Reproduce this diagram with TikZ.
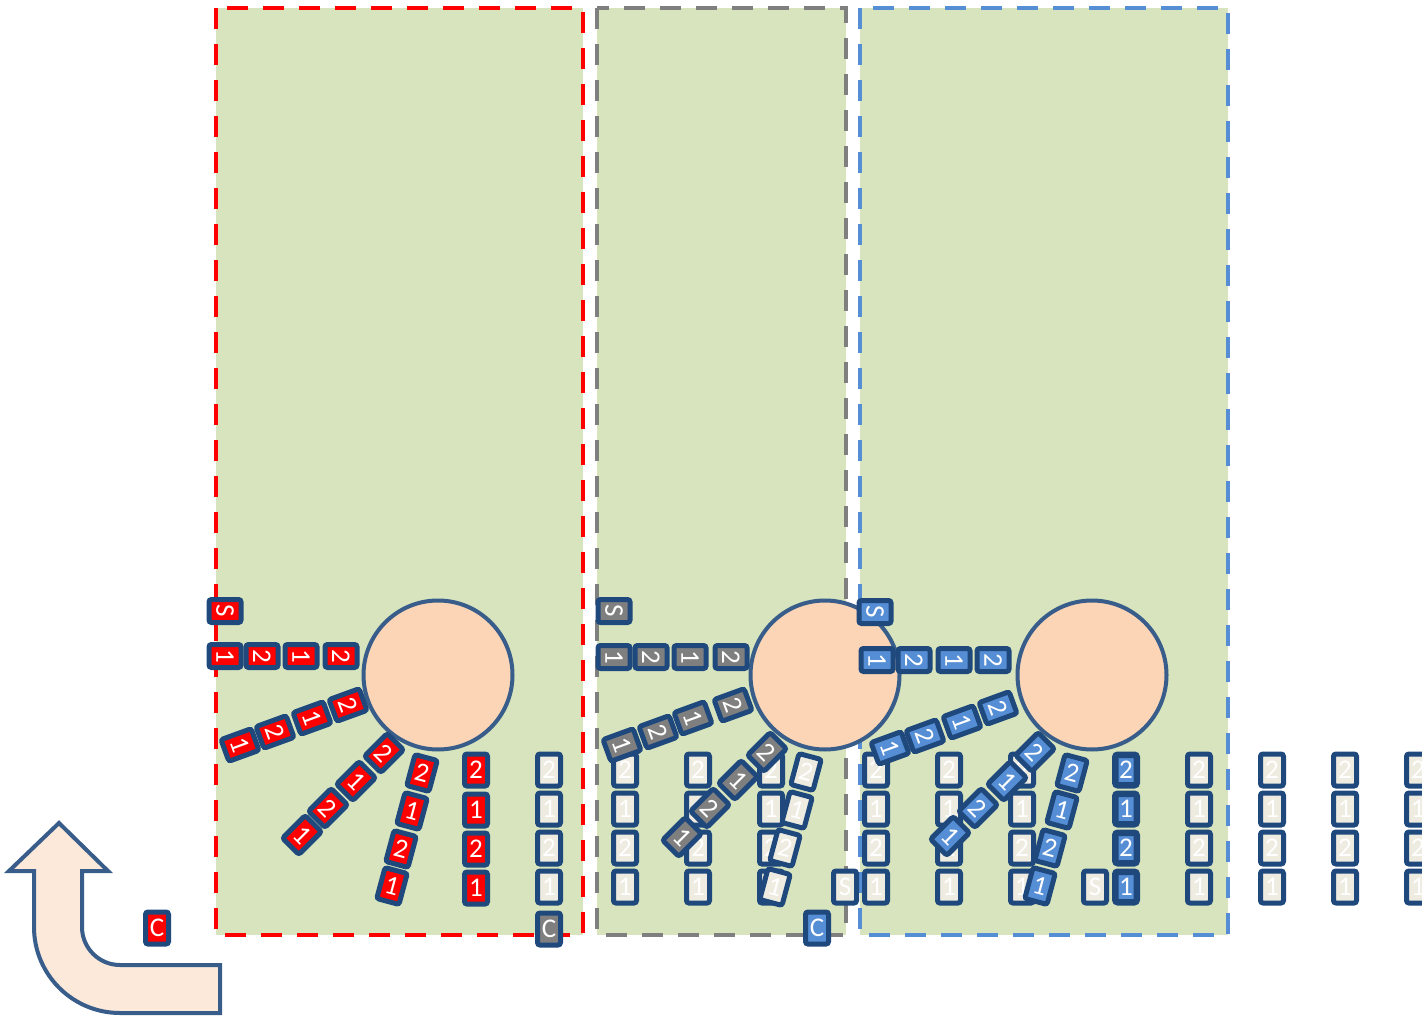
\documentclass[tikz,border=0pt]{standalone}
\usepackage{fontspec}
\newfontfamily\tilefont{Carlito}
\definecolor{cGreen}{HTML}{D7E4BD}
\definecolor{cRed}{HTML}{FF0000}
\definecolor{cGrey}{HTML}{7F7F7F}
\definecolor{cBlue}{HTML}{558ED5}
\definecolor{cBeige}{HTML}{EEECE1}
\definecolor{cEdge}{HTML}{1F497D}
\definecolor{cRing}{HTML}{385D8A}
\definecolor{cSun}{HTML}{FBD5B5}
\definecolor{cArrow}{HTML}{FDE9D9}
\tikzset{
  zone/.style={fill=cGreen, dash pattern=on 21pt off 15pt, line width=4.5pt},
  sun/.style={circle, draw=cRing, fill=cSun, line width=4pt, minimum size=149pt, inner sep=0pt},
  tile/.style={draw=cEdge, line width=5pt, rounded corners=2.5pt, minimum width=23pt,
    minimum height=32pt, inner sep=0pt, text=white, font={\tilefont\fontsize{27}{28}\selectfont}},
  tRed/.style={tile, fill=cRed},
  tGrey/.style={tile, fill=cGrey},
  tBlue/.style={tile, fill=cBlue},
  tBeige/.style={tile, fill=cBeige},
  bentarrow/.style={draw=cRing, fill=cArrow, line width=4pt, line join=miter}
}
\begin{document}
\begin{tikzpicture}[x=1pt,y=-1pt]
\useasboundingbox (0,0) rectangle (1422,1016);
\clip (0,0) rectangle (1422,1016);

% zones
\draw[zone, draw=cRed]  (216,8) rectangle (583,935);
\draw[zone, draw=cGrey] (597,8) rectangle (846,935);
\draw[zone, draw=cBlue] (860,8) rectangle (1228,935);

% bent arrow
\draw[bentarrow] (9,871) -- (59,823) -- (108,871) -- (82,871) -- (82,927)
  .. controls (82,948) and (99,965) .. (120,965) -- (220,965) -- (220,1013) -- (120,1013)
  .. controls (72.5,1013) and (34,974.5) .. (34,927) -- (34,871) -- cycle;

% suns
\node[sun] (sunRed)  at (438,675) {};
\node[sun] (sunGrey) at (825,675) {};
\node[sun] (sunBlue) at (1092,675) {};

% beige columns
\foreach \cx [count=\c] in {549,625,698,771,876,949,1022,1199,1272,1345,1418}{
  \foreach \cy/\t [count=\k] in {770/2,809/1,848/2,887/1}{
    \node[tBeige] (col\c-\k) at (\cx,\cy) {\t};
  }
}
\node[tBeige] (sGrey) at (845,887) {S};
\node[tBeige] (sBlue) at (1095,887) {S};

% C tiles
\node[tRed]  (cRedTile)  at (157,928) {C};
\node[tGrey] (cGreyTile) at (549,929) {C};
\node[tBlue] (cBlueTile) at (817,928) {C};

% ---------- red ----------
\node[tRed, rotate=-90] (sRedTile) at (225,611) {S};
\foreach \x/\y/\t [count=\k] in {341/656/2,301/656/1,262/656/2,225/656/1}
  \node[tRed, rotate=-90] (redRow\k) at (\x,\y) {\t};
\foreach \x/\y/\t [count=\k] in {348/705/2,312/718/1,275/732/2,240/745/1}
  \node[tRed, rotate=-70] (redA\k) at (\x,\y) {\t};
\foreach \x/\y/\t [count=\k] in {384/753/2,356/781/1,328/808/2,302/835/1}
  \node[tRed, rotate=-45] (redB\k) at (\x,\y) {\t};
\foreach \x/\y/\t [count=\k] in {422/773/2,412/811/1,401/849/2,392/886/1}
  \node[tRed, rotate=-15] (redC\k) at (\x,\y) {\t};
\foreach \y/\t [count=\k] in {770/2,810/1,849/2,888/1}
  \node[tRed] (redCol\k) at (476,\y) {\t};

% ---------- grey ----------
\node[tGrey, rotate=-90] (sGreyTile) at (614,611) {S};
\foreach \x/\y/\t [count=\k] in {731/657/2,690/657/1,651/657/2,614/657/1}
  \node[tGrey, rotate=-90] (greyRow\k) at (\x,\y) {\t};
\foreach \x/\y/\t [count=\k] in {733/705/2,693/718/1,658/732/2,622/745/1}
  \node[tGrey, rotate=-70] (greyA\k) at (\x,\y) {\t};
\foreach \x/\y/\t [count=\k] in {806/772/2,797/810/1,785/848/2,775/887/1}
  \node[tBeige, rotate=-15] (greyC\k) at (\x,\y) {\t};
\foreach \x/\y/\t [count=\k] in {767/752/2,738/780/1,710/808/2,682/837/1}
  \node[tGrey, rotate=-45] (greyB\k) at (\x,\y) {\t};

% ---------- blue ----------
\node[tBlue, rotate=-90] (sBlueTile) at (875,612) {S};
\foreach \x/\y/\t [count=\k] in {993/660/2,954/660/1,914/660/2,877/660/1}
  \node[tBlue, rotate=-90] (blueRow\k) at (\x,\y) {\t};
\foreach \x/\y/\t [count=\k] in {998/708/2,962/722/1,925/736/2,890/748/1}
  \node[tBlue, rotate=-70] (blueA\k) at (\x,\y) {\t};
\foreach \x/\y/\t [count=\k] in {1035/752/2,1007/781/1,978/808/2,950/836/1}
  \node[tBlue, rotate=-45] (blueB\k) at (\x,\y) {\t};
\foreach \x/\y/\t [count=\k] in {1072/773/2,1062/810/1,1050/848/2,1040/886/1}
  \node[tBlue, rotate=-15] (blueC\k) at (\x,\y) {\t};
\foreach \y/\t [count=\k] in {770/2,809/1,848/2,887/1}
  \node[tBlue, line width=6.5pt, minimum width=21.5pt, minimum height=30.5pt] (blueCol\k) at (1126,\y) {\t};
\end{tikzpicture}
\end{document}
